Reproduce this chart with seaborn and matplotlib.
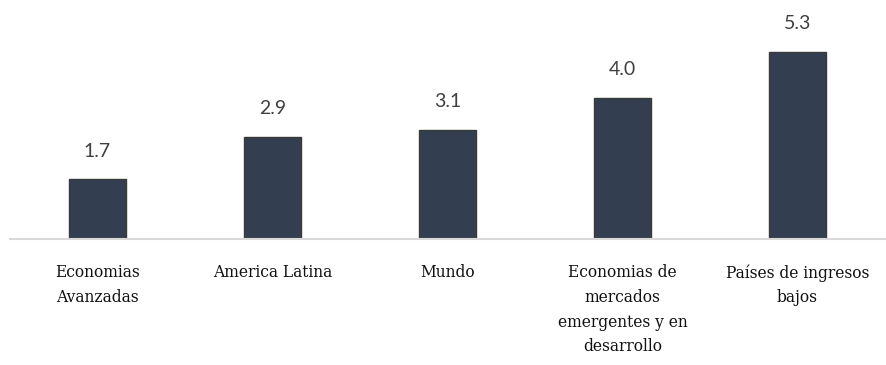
import matplotlib
matplotlib.use("Agg")
import matplotlib.pyplot as plt
import seaborn as sns
import pandas as pd

# data
categories = ["Economias\nAvanzadas", "America Latina", "Mundo",
              "Economias de\nmercados\nemergentes y en\ndesarrollo",
              "Países de ingresos\nbajos"]
values = [1.7, 2.9, 3.1, 4.0, 5.3]

df = pd.DataFrame({"cat": categories, "val": values})

sns.set_style("white")
fig = plt.figure(figsize=(8.87, 3.65), dpi=100)
ax = fig.add_axes([10 / 887, 126 / 365, 875 / 887, 239 / 365])

sns.barplot(data=df, x="cat", y="val", color="#333F50", width=0.33,
            edgecolor="#3a3a3a", linewidth=1, saturation=1, ax=ax)

ax.set_ylim(0, 6.77)
ax.set_xlim(-0.5, 4.5)
for i, v in enumerate(values):
    ax.annotate(f"{v:.1f}", (i, v), xytext=(0, 14), textcoords="offset points",
                ha="center", va="bottom", fontsize=14, color="#404040",
                family="Lato")

for s in ["top", "right", "left"]:
    ax.spines[s].set_visible(False)
ax.spines["bottom"].set_color("#d9d9d9")
ax.spines["bottom"].set_linewidth(1.5)
ax.set_yticks([])
ax.set_xlabel("")
ax.set_ylabel("")
ax.tick_params(axis="x", length=0, pad=18)
for lab in ax.get_xticklabels():
    lab.set_fontfamily("DejaVu Serif")
    lab.set_fontsize(11.2)
    lab.set_linespacing(1.6)
    lab.set_verticalalignment("top")
    lab.set_color("#111111")

fig.savefig("out.png", dpi=100)
